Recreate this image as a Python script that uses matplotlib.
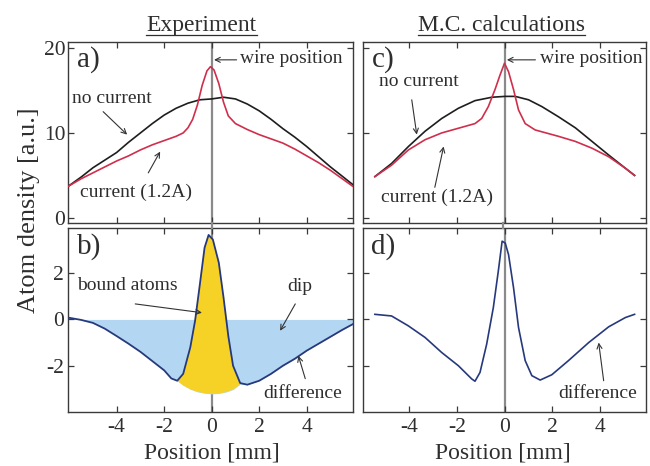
import numpy as np
import matplotlib
matplotlib.use("Agg")
import matplotlib.pyplot as plt
from matplotlib.lines import Line2D

plt.rcParams['font.family'] = ['Liberation Serif', 'DejaVu Serif']
plt.rcParams['axes.unicode_minus'] = False

# ---------------- data ----------------
# Experiment, panel a)
exp_x_nocur = [-6.05, -5.5, -5, -4.5, -4, -3.5, -3, -2.5, -2, -1.5, -1, -0.5, 0, 0.5, 1,
               1.5, 2, 2.5, 3, 3.5, 4, 4.5, 5, 5.5, 5.95]
exp_y_nocur = [3.7, 4.8, 5.9, 6.8, 7.7, 8.9, 10.0, 11.1, 12.1, 12.9, 13.5, 13.9, 14.0, 14.2, 14.0,
               13.4, 12.6, 11.6, 10.5, 9.5, 8.4, 7.2, 6.0, 4.9, 3.9]
exp_x_cur = [-6.05, -5.5, -5, -4.5, -4, -3.5, -3, -2.5, -2, -1.5, -1.2, -1.0, -0.8, -0.6, -0.4,
             -0.2, -0.05, 0.1, 0.3, 0.5, 0.7, 1.0, 1.5, 2, 2.5, 3, 3.5, 4, 4.5, 5, 5.5, 5.95]
exp_y_cur = [3.7, 4.6, 5.3, 6.0, 6.7, 7.3, 8.0, 8.6, 9.1, 9.6, 10.0, 10.6, 11.6, 13.3, 15.6,
             17.3, 17.8, 17.4, 15.8, 13.6, 12.0, 11.1, 10.4, 9.8, 9.3, 8.8, 8.1, 7.3, 6.5, 5.6, 4.6, 3.7]

# Experiment, panel b) difference
exp_x_diff = [-6.05, -5.5, -5, -4.5, -4, -3.5, -3, -2.5, -2, -1.7, -1.45, -1.2, -0.9, -0.7, -0.5,
              -0.3, -0.13, 0.05, 0.3, 0.5, 0.7, 0.9, 1.2, 1.5, 2, 2.5, 3, 3.5, 4, 4.5, 5, 5.5, 5.95]
exp_y_diff = [0.08, -0.02, -0.15, -0.4, -0.72, -1.05, -1.4, -1.8, -2.2, -2.55, -2.65, -2.35, -1.2,
              -0.06, 1.5, 3.1, 3.65, 3.45, 2.45, 0.94, -0.72, -2.0, -2.75, -2.82, -2.65, -2.35,
              -2.0, -1.7, -1.35, -1.05, -0.75, -0.45, -0.2]
# lower boundary of the bound-atom peak (smooth dip under the peak)
dip_x = [-1.45, -1.2, -0.9, -0.6, -0.3, 0.0, 0.3, 0.6, 0.9, 1.2]
dip_y = [-2.65, -2.85, -3.02, -3.13, -3.19, -3.22, -3.2, -3.14, -3.03, -2.8]

# M.C. calculations, panel c)
mc_x_nocur = [-5.45, -4.75, -4.04, -3.34, -2.64, -1.94, -1.24, -0.53, 0.03, 0.45, 1.01, 1.57,
              2.27, 2.98, 3.68, 4.38, 5.08, 5.47]
mc_y_nocur = [4.86, 6.4, 8.4, 10.2, 11.7, 12.9, 13.8, 14.2, 14.3, 14.3, 13.9, 13.1,
              11.9, 10.6, 9.0, 7.4, 5.85, 5.0]
mc_x_cur = [-5.45, -4.75, -4.04, -3.34, -2.64, -1.94, -1.24, -0.96, -0.68, -0.4, -0.19, 0.0,
            0.17, 0.38, 0.59, 0.87, 1.29, 2.27, 2.98, 3.68, 4.38, 5.08, 5.47]
mc_y_cur = [4.86, 6.2, 8.0, 9.2, 10.0, 10.55, 11.1, 11.7, 13.1, 15.1, 16.8, 18.2,
            17.2, 15.1, 12.7, 11.1, 10.35, 9.6, 9.0, 8.2, 7.2, 5.85, 5.0]

# M.C. calculations, panel d) difference
mc_x_diff = [-5.45, -4.75, -4.04, -3.34, -2.64, -1.94, -1.38, -1.24, -1.03, -0.75, -0.47, -0.26,
             -0.1, 0.03, 0.17, 0.38, 0.59, 0.87, 1.15, 1.5, 1.99, 2.69, 3.54, 4.38, 5.08, 5.47]
mc_y_diff = [0.22, 0.15, -0.28, -0.78, -1.43, -2.0, -2.57, -2.67, -2.29, -1.07, 0.51, 2.09,
             3.38, 3.3, 2.8, 1.37, -0.35, -1.78, -2.43, -2.62, -2.39, -1.78, -1.0, -0.32, 0.08, 0.22]

x_ticks = [-4, -2, 0, 2, 4]
top_yticks = [0, 10, 20]
bot_yticks = [-2, 0, 2]

# ---------------- colours ----------------
C_BLACK = '#1e1e1e'
C_RED = '#cf2f4c'
C_DIFF = '#27397d'
C_BLUE = '#b3d7f2'
C_YEL = '#f7d226'
C_WIRE = '#8a8a8a'
C_SPINE = '#3a3a3a'
C_TXT = '#2e2e2e'

W, H = 650, 466
fig = plt.figure(figsize=(W / 100, H / 100), dpi=100)

def ax_at(x0, y0, x1, y1):
    return fig.add_axes([x0 / W, 1 - y1 / H, (x1 - x0) / W, (y1 - y0) / H])

ax_a = ax_at(68, 42, 353, 223)
ax_b = ax_at(68, 228, 353, 412)
ax_c = ax_at(363, 42, 646, 223)
ax_d = ax_at(363, 228, 646, 412)

XL_L = (-6.05, 5.95)
XL_R = (-5.95, 5.95)

for ax, xl in ((ax_a, XL_L), (ax_b, XL_L), (ax_c, XL_R), (ax_d, XL_R)):
    ax.set_xlim(*xl)
    ax.set_xticks(x_ticks)
    ax.tick_params(direction='in', top=True, right=True, length=4.5, width=0.9,
                   colors=C_SPINE, labelcolor=C_TXT, labelsize=15.5)
    for s in ax.spines.values():
        s.set_color(C_SPINE)
        s.set_linewidth(1.0)
    ax.axvline(0, color=C_WIRE, lw=1.6, zorder=1)

for ax in (ax_a, ax_c):
    ax.set_ylim(-0.6, 20.7)
    ax.set_yticks(top_yticks)
    ax.tick_params(labelbottom=False)
for ax in (ax_b, ax_d):
    ax.set_ylim(-4.0, 3.95)
    ax.set_yticks(bot_yticks)
    ax.tick_params(axis='x', pad=4)
for ax in (ax_c, ax_d):
    ax.tick_params(labelleft=False)
ax_a.tick_params(axis='y', pad=2)
ax_b.tick_params(axis='y', pad=3)

# ---- panel a
ax_a.plot(exp_x_nocur, exp_y_nocur, color=C_BLACK, lw=1.2, zorder=3)
ax_a.plot(exp_x_cur, exp_y_cur, color=C_RED, lw=1.2, zorder=4)

# ---- panel b
dx = np.array(exp_x_diff)
dy = np.array(exp_y_diff)
lo, hi = dip_x[0], dip_x[-1]
base_x = np.concatenate([dx[dx < lo], dip_x, dx[dx > hi]])
base_y = np.concatenate([dy[dx < lo], dip_y, dy[dx > hi]])
ax_b.fill_between(base_x, base_y, 0, color=C_BLUE, lw=0, zorder=1.5)
m = (dx >= lo) & (dx <= hi)
poly_x = np.concatenate([dx[m], dip_x[::-1]])
poly_y = np.concatenate([dy[m], dip_y[::-1]])
ax_b.fill(poly_x, poly_y, color=C_YEL, lw=0, zorder=1.6)
ax_b.plot(exp_x_diff, exp_y_diff, color=C_DIFF, lw=1.3, zorder=3)

# ---- panel c
ax_c.plot(mc_x_nocur, mc_y_nocur, color=C_BLACK, lw=1.2, zorder=3)
ax_c.plot(mc_x_cur, mc_y_cur, color=C_RED, lw=1.2, zorder=4)

# ---- panel d
ax_d.plot(mc_x_diff, mc_y_diff, color=C_DIFF, lw=1.2, zorder=3)

# wire line across the gap between rows
for xpix in (211.5, 502.7):
    fig.add_artist(Line2D([xpix / W, xpix / W], [1 - 228 / H, 1 - 223 / H],
                          color=C_WIRE, lw=1.6))

# ---- labels
LBL = dict(fontsize=21, color=C_TXT, ha='left', va='top')
for ax, t in ((ax_a, 'a)'), (ax_b, 'b)'), (ax_c, 'c)'), (ax_d, 'd)')):
    ax.text(0.03, 0.975, t, transform=ax.transAxes, **LBL)

AP = dict(arrowstyle='->', lw=0.8, color='#333333', shrinkA=0, shrinkB=0,
          mutation_scale=9)
TX = dict(fontsize=14, color=C_TXT)

def note(ax, text, xy, xytext, txt_xy, ha='center', va='center'):
    ax.text(txt_xy[0], txt_xy[1], text, ha=ha, va=va, **TX)
    ax.annotate('', xy=xy, xytext=xytext, arrowprops=AP)

note(ax_a, 'wire position', (0.1, 18.6), (1.05, 18.6), (1.2, 18.7), ha='left')
note(ax_a, 'no current', (-3.56, 9.8), (-4.57, 12.5), (-4.2, 14.0))
note(ax_a, 'current (1.2A)', (-2.17, 7.8), (-2.67, 5.3), (-3.18, 3.0))

note(ax_c, 'wire position', (0.1, 18.6), (1.3, 18.6), (1.5, 18.7), ha='left')
note(ax_c, 'no current', (-3.69, 9.8), (-3.9, 13.9), (-3.6, 16.0))
note(ax_c, 'current (1.2A)', (-2.56, 8.4), (-2.93, 3.6), (-2.83, 2.45))

note(ax_b, 'bound atoms', (-0.41, 0.29), (-3.22, 0.67), (-3.54, 1.48))
note(ax_b, 'dip', (2.88, -0.49), (3.52, 0.67), (3.7, 1.44))
note(ax_b, 'difference', (3.65, -1.57), (3.94, -2.56), (3.83, -3.2))

note(ax_d, 'difference', (3.96, -1.0), (4.17, -2.65), (3.93, -3.2))

# axis labels
fig.text(29 / W, 1 - 210 / H, 'Atom density [a.u.]', rotation=90, ha='center',
         va='center', fontsize=19, color=C_TXT)
for xc in (211.5, 502.7):
    fig.text(xc / W, 1 - 458 / H, 'Position [mm]', ha='center', va='baseline',
             fontsize=17, color=C_TXT)

# underlined titles
titles = []
for xc, t in ((201.5, 'Experiment'), (501.5, 'M.C. calculations')):
    titles.append(fig.text(xc / W, 1 - 31 / H, t, ha='center', va='baseline',
                           fontsize=17, color=C_TXT))
fig.canvas.draw()
r = fig.canvas.get_renderer()
for t in titles:
    bb = t.get_window_extent(r)
    fig.add_artist(Line2D([bb.x0 / W, bb.x1 / W], [1 - 34.5 / H, 1 - 34.5 / H],
                          color=C_TXT, lw=0.9))

fig.savefig('out.png', dpi=100)
